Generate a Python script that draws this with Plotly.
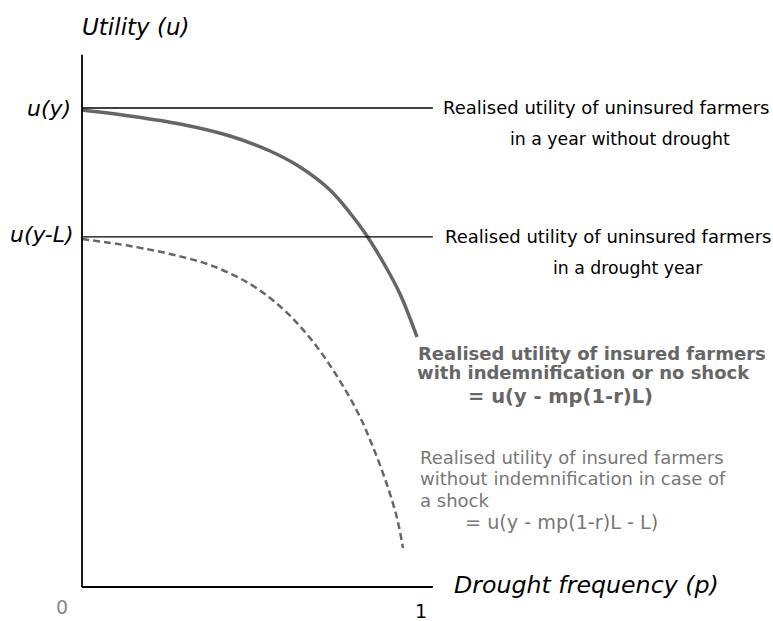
import plotly.graph_objects as go

# Solid curve: insured farmers, with indemnification or no shock
p_insured = [0.0, 0.1416, 0.2891, 0.4366, 0.5546, 0.6431, 0.7316, 0.7906, 0.8348, 0.8879, 0.9381, 0.9882]
u_insured = [0.9958, 0.9833, 0.9666, 0.9415, 0.9102, 0.8768, 0.8288, 0.7808, 0.7390, 0.6785, 0.6117, 0.5219]

# Dashed curve: insured farmers without indemnification in case of a shock
p_shock = [0.0, 0.1416, 0.2596, 0.3776, 0.4956, 0.5929, 0.6726, 0.7463, 0.8142, 0.8584, 0.9000, 0.9292, 0.9469]
u_shock = [0.7265, 0.7119, 0.6952, 0.6722, 0.6326, 0.5804, 0.5198, 0.4468, 0.3633, 0.2923, 0.2129, 0.1441, 0.0814]

# Reference levels
u_levels = [1.0, 0.731]
level_names = ["u(y)", "u(y-L)"]
p_axis_end = 1.035
u_axis_top = 1.111

FONT = "DejaVu Sans"
GRAY = "#666666"

fig = go.Figure()

fig.add_trace(go.Scatter(x=p_insured, y=u_insured, mode="lines",
                         line=dict(color=GRAY, width=3.5, shape="spline", smoothing=1.0),
                         hoverinfo="skip", showlegend=False))
fig.add_trace(go.Scatter(x=p_shock, y=u_shock, mode="lines",
                         line=dict(color=GRAY, width=2.5, dash="7px,4px", shape="spline", smoothing=1.0),
                         hoverinfo="skip", showlegend=False))

shapes = [
    dict(type="line", x0=0, x1=0, y0=0, y1=u_axis_top, line=dict(color="black", width=1.8)),
    dict(type="line", x0=0, x1=p_axis_end, y0=0, y1=0, line=dict(color="black", width=1.8)),
]
for u in u_levels:
    shapes.append(dict(type="line", x0=0, x1=p_axis_end, y0=u, y1=u, line=dict(color="black", width=1.3)))

anns = []
def A(x, y, text, size, color="black", xanchor="left", italic=False, bold=False):
    t = text
    if bold:
        t = "<b>" + t + "</b>"
    if italic:
        t = "<i>" + t + "</i>"
    anns.append(dict(x=x, y=y, xref="x", yref="y", text=t, showarrow=False,
                     xanchor=xanchor, yanchor="middle",
                     font=dict(family=FONT, size=size, color=color)))

A(-0.006, 1.169, "Utility (u)", 23, italic=True)
A(-0.027, u_levels[0], level_names[0], 22, xanchor="right", italic=True)
A(-0.018, u_levels[1] + 0.004, level_names[1], 22, xanchor="right", italic=True)

A(1.059, 1.002, "Realised utility of uninsured farmers", 18)
A(1.257, 0.935, "in a year without drought", 17.3)
A(1.065, 0.731, "Realised utility of uninsured farmers", 18)
A(1.383, 0.666, "in a drought year", 17.3)

A(0.985, 0.4885, "Realised utility of insured farmers", 18, color=GRAY, bold=True)
A(0.982, 0.4468, "with indemnification or no shock", 18, color=GRAY, bold=True)
A(1.133, 0.3987, "= u(y - mp(1-r)L)", 19.5, color=GRAY, bold=True)

A(0.991, 0.2714, "Realised utility of insured farmers", 18, color="#777777")
A(0.991, 0.2255, "without indemnification in case of", 18, color="#777777")
A(0.991, 0.1816, "a shock", 18, color="#777777")
A(1.124, 0.1357, "= u(y - mp(1-r)L - L)", 19.2, color="#777777")

A(1.091, 0.004, "Drought frequency (p)", 23.7, italic=True)
A(-0.059, -0.042, "0", 19, color="#888888", xanchor="center")
A(1.0, -0.050, "1", 19, xanchor="center")

fig.update_layout(
    width=773, height=621,
    margin=dict(l=0, r=0, t=0, b=0),
    paper_bgcolor="white", plot_bgcolor="white",
    xaxis=dict(range=[-82/339, (773-82)/339], visible=False, fixedrange=True),
    yaxis=dict(range=[-34/479, 587/479], visible=False, fixedrange=True),
    shapes=shapes, annotations=anns, showlegend=False,
)

fig.write_html("out.html", config={"displayModeBar": False},
               post_script="document.body.style.margin='0';")
